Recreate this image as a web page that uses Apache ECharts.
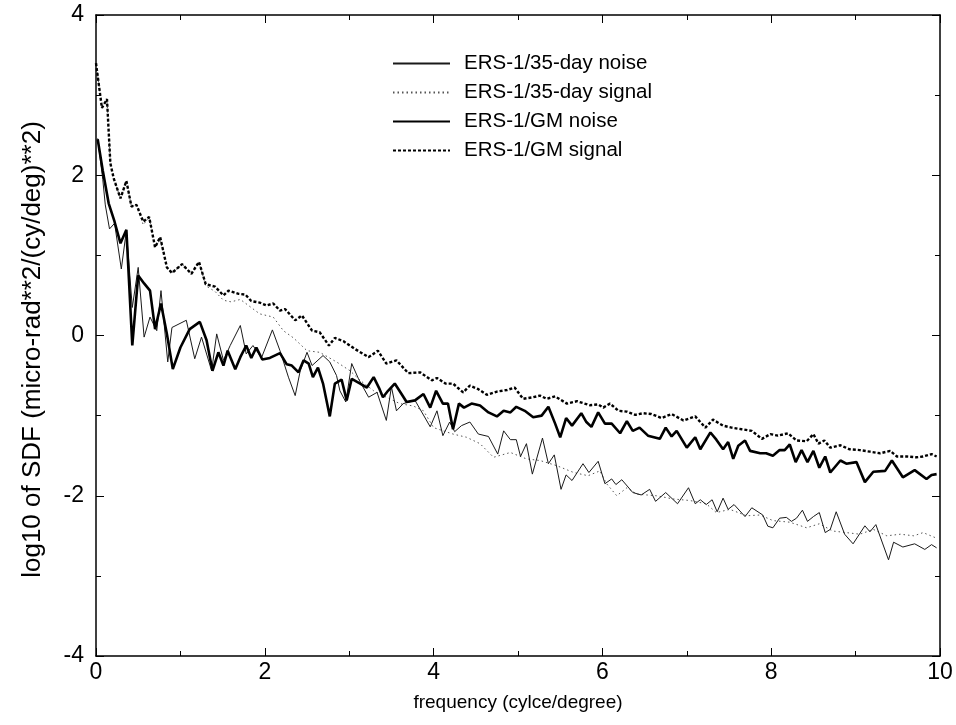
<!DOCTYPE html>
<html>
<head>
<meta charset="utf-8">
<script src="https://cdn.jsdelivr.net/npm/echarts@6/dist/echarts.min.js"></script>
<style>
html,body{margin:0;padding:0;background:#fff;}
#chart{width:956px;height:725px;}
</style>
</head>
<body>
<div id="chart"></div>
<script>
// ---- data ----
const seriesNames = ['ERS-1/35-day noise', 'ERS-1/35-day signal', 'ERS-1/GM noise', 'ERS-1/GM signal'];
const xTicks = [0, 2, 4, 6, 8, 10];
const yTicks = [-4, -2, 0, 2, 4];

// ERS-1/GM signal
const gmSignalFreq = [0,0.07,0.13,0.17,0.21,0.29,0.36,0.42,0.48,0.56,0.63,0.7,0.76,0.84,0.9,1.02,1.13,1.22,1.3,1.41,1.51,1.57,1.69,1.77,1.84,1.94,2.02,2.1,2.18,2.24,2.36,2.44,2.56,2.65,2.76,2.83,2.93,3.07,3.23,3.34,3.44,3.56,3.7,3.84,3.98,4.04,4.14,4.23,4.35,4.43,4.53,4.63,4.75,4.87,4.96,5.06,5.18,5.26,5.34,5.44,5.58,5.7,5.85,5.95,6.01,6.09,6.19,6.29,6.39,6.48,6.58,6.7,6.82,6.96,7.1,7.22,7.31,7.43,7.53,7.65,7.77,7.89,7.99,8.08,8.2,8.3,8.42,8.5,8.56,8.63,8.7,8.82,8.93,9.05,9.17,9.29,9.41,9.49,9.61,9.72,9.8,9.9,9.96];
const gmSignal = [3.4,2.84,2.95,2.15,1.96,1.71,1.93,1.61,1.63,1.42,1.48,1.1,1.23,0.85,0.78,0.89,0.77,0.92,0.64,0.61,0.5,0.56,0.52,0.51,0.43,0.41,0.375,0.4,0.31,0.33,0.19,0.25,0.06,0.04,-0.125,-0.03,-0.07,-0.17,-0.27,-0.19,-0.35,-0.31,-0.47,-0.46,-0.56,-0.53,-0.6,-0.6,-0.71,-0.625,-0.67,-0.74,-0.7,-0.68,-0.65,-0.79,-0.77,-0.75,-0.79,-0.76,-0.85,-0.82,-0.87,-0.86,-0.9,-0.85,-0.94,-0.95,-0.99,-0.97,-0.98,-1.03,-0.98,-1.06,-1.01,-1.15,-1.05,-1.125,-1.15,-1.17,-1.19,-1.29,-1.23,-1.25,-1.22,-1.31,-1.32,-1.23,-1.35,-1.31,-1.4,-1.37,-1.42,-1.43,-1.45,-1.47,-1.44,-1.51,-1.51,-1.52,-1.51,-1.48,-1.51];

// ERS-1/35-day signal
const d35SignalFreq = [0,0.07,0.13,0.17,0.21,0.29,0.36,0.42,0.48,0.56,0.63,0.7,0.76,0.84,0.9,1.02,1.13,1.22,1.3,1.41,1.51,1.6,1.71,1.94,2.1,2.22,2.34,2.5,2.65,2.85,3.01,3.13,3.29,3.44,3.6,3.76,3.88,4.0,4.23,4.39,4.55,4.71,4.91,5.1,5.26,5.46,5.66,5.83,5.97,6.05,6.17,6.29,6.41,6.64,6.84,7.04,7.23,7.35,7.51,7.71,7.87,8.02,8.22,8.42,8.57,8.73,8.89,9.05,9.21,9.37,9.53,9.69,9.8,9.96];
const d35Signal = [3.4,2.84,2.95,2.15,1.96,1.71,1.93,1.61,1.63,1.38,1.48,1.1,1.2,0.85,0.78,0.89,0.77,0.92,0.62,0.55,0.44,0.42,0.45,0.27,0.23,0.06,-0.03,-0.19,-0.21,-0.33,-0.44,-0.56,-0.69,-0.77,-0.85,-0.88,-0.94,-1.15,-1.23,-1.27,-1.35,-1.52,-1.46,-1.54,-1.56,-1.625,-1.71,-1.75,-1.69,-1.85,-2.0,-1.9,-1.98,-2.0,-2.04,-2.06,-2.1,-2.21,-2.17,-2.25,-2.24,-2.31,-2.33,-2.4,-2.35,-2.44,-2.46,-2.48,-2.42,-2.5,-2.48,-2.5,-2.46,-2.53];

// ERS-1/GM noise
const gmNoiseFreq = [0.02,0.08,0.15,0.22,0.29,0.36,0.43,0.5,0.57,0.64,0.7,0.77,0.84,0.91,1.0,1.11,1.23,1.31,1.38,1.45,1.51,1.56,1.65,1.71,1.78,1.84,1.9,1.97,2.06,2.18,2.26,2.32,2.4,2.46,2.52,2.57,2.63,2.69,2.77,2.83,2.91,2.97,3.03,3.13,3.21,3.29,3.36,3.4,3.46,3.54,3.62,3.68,3.78,3.88,3.96,4.03,4.11,4.17,4.23,4.3,4.36,4.45,4.55,4.65,4.75,4.83,4.91,4.98,5.08,5.18,5.28,5.36,5.44,5.5,5.57,5.64,5.75,5.81,5.87,5.95,6.03,6.11,6.21,6.29,6.36,6.44,6.54,6.68,6.75,6.82,6.88,7.0,7.1,7.16,7.28,7.35,7.43,7.49,7.55,7.61,7.69,7.75,7.87,7.94,8.02,8.1,8.16,8.22,8.29,8.36,8.43,8.5,8.57,8.64,8.7,8.82,8.89,9.01,9.11,9.21,9.35,9.43,9.56,9.7,9.84,9.9,9.96];
const gmNoise = [2.45,2.06,1.65,1.42,1.15,1.32,-0.125,0.75,0.65,0.56,0.08,0.4,0.02,-0.42,-0.15,0.08,0.17,-0.06,-0.44,-0.21,-0.375,-0.19,-0.42,-0.27,-0.125,-0.28,-0.15,-0.3,-0.28,-0.22,-0.36,-0.375,-0.46,-0.31,-0.35,-0.52,-0.4,-0.6,-1.01,-0.6,-0.55,-0.81,-0.54,-0.6,-0.65,-0.52,-0.67,-0.77,-0.69,-0.6,-0.73,-0.83,-0.81,-0.73,-0.9,-0.69,-0.85,-0.85,-1.17,-0.85,-0.9,-0.85,-0.875,-0.96,-1.01,-0.94,-0.96,-0.89,-0.94,-1.02,-1.0,-0.89,-1.1,-1.27,-1.03,-1.125,-0.97,-1.08,-1.14,-0.96,-1.1,-1.1,-1.22,-1.07,-1.19,-1.15,-1.25,-1.29,-1.15,-1.26,-1.19,-1.4,-1.27,-1.42,-1.21,-1.3,-1.42,-1.33,-1.54,-1.375,-1.31,-1.44,-1.47,-1.47,-1.5,-1.43,-1.43,-1.36,-1.58,-1.43,-1.58,-1.44,-1.65,-1.51,-1.71,-1.56,-1.6,-1.58,-1.83,-1.7,-1.69,-1.56,-1.77,-1.68,-1.79,-1.74,-1.73];

// ERS-1/35-day noise
const d35NoiseFreq = [0.02,0.08,0.11,0.16,0.22,0.3,0.36,0.43,0.5,0.57,0.64,0.72,0.77,0.85,0.9,1.07,1.17,1.25,1.37,1.43,1.51,1.59,1.71,1.78,1.86,1.96,2.09,2.18,2.28,2.36,2.42,2.5,2.56,2.69,2.77,2.85,2.89,2.96,3.03,3.11,3.23,3.33,3.44,3.5,3.56,3.64,3.78,3.96,4.04,4.11,4.19,4.25,4.33,4.43,4.53,4.65,4.76,4.83,4.91,4.98,5.03,5.1,5.17,5.29,5.36,5.43,5.51,5.57,5.64,5.77,5.84,5.95,6.03,6.11,6.16,6.23,6.36,6.46,6.56,6.63,6.75,6.89,7.02,7.1,7.16,7.23,7.3,7.36,7.43,7.49,7.56,7.69,7.77,7.9,7.96,8.02,8.1,8.18,8.24,8.3,8.37,8.43,8.5,8.57,8.64,8.7,8.77,8.87,8.97,9.11,9.17,9.24,9.39,9.45,9.56,9.7,9.82,9.9,9.96];
const d35Noise = [2.46,1.95,1.63,1.33,1.4,0.83,1.31,0.35,0.85,-0.02,0.23,0.06,0.56,-0.33,0.1,0.19,-0.29,-0.02,-0.44,0.02,-0.31,-0.125,0.125,-0.23,-0.125,-0.28,0.07,-0.19,-0.52,-0.75,-0.44,-0.21,-0.375,-0.25,-0.33,-0.5,-0.69,-0.83,-0.35,-0.54,-0.77,-0.71,-1.06,-0.64,-0.94,-0.85,-0.81,-1.14,-0.94,-1.25,-1.08,-1.2,-1.125,-1.08,-1.23,-1.26,-1.48,-1.19,-1.3,-1.3,-1.51,-1.35,-1.73,-1.28,-1.6,-1.49,-1.92,-1.74,-1.81,-1.6,-1.71,-1.57,-1.85,-1.79,-1.86,-1.8,-1.96,-1.99,-1.92,-2.07,-1.96,-2.1,-1.9,-2.1,-2.05,-2.11,-2.05,-2.2,-2.03,-2.17,-2.11,-2.26,-2.15,-2.24,-2.38,-2.4,-2.28,-2.27,-2.32,-2.28,-2.18,-2.32,-2.26,-2.21,-2.46,-2.42,-2.2,-2.48,-2.6,-2.375,-2.45,-2.36,-2.8,-2.58,-2.64,-2.6,-2.67,-2.61,-2.65];

// ---- chart ----
const pairs = (xs, ys) => xs.map((x, i) => [x, ys[i]]);
const FONT = '"Liberation Sans", Arial, Helvetica, sans-serif';

const chart = echarts.init(document.getElementById('chart'), null, {renderer: 'canvas'});

const axisCommon = {
  type: 'value',
  axisLine: {show: true, onZero: false, lineStyle: {color: '#000', width: 1.5}},
  splitLine: {show: false},
  axisTick: {show: true, inside: true, length: 8, lineStyle: {color: '#000', width: 1}},
  minorTick: {show: true, splitNumber: 2, length: 5, lineStyle: {color: '#000', width: 1}},
  axisLabel: {color: '#000', fontSize: 23, fontFamily: FONT}
};

chart.setOption({
  backgroundColor: '#fff',
  animation: false,
  grid: {left: 96, right: 16, top: 15, bottom: 69, containLabel: false},
  legend: {
    orient: 'vertical',
    left: 392,
    top: 53,
    padding: 0,
    itemWidth: 57,
    itemHeight: 14,
    itemGap: 8,
    data: seriesNames,
    itemStyle: {opacity: 0},
    textStyle: {color: '#000', fontSize: 20.5, lineHeight: 20, fontFamily: FONT, padding: [0, 0, 0, 9]}
  },
  xAxis: [
    Object.assign({}, axisCommon, {
      position: 'bottom', min: 0, max: 10, interval: 2,
      axisLabel: Object.assign({}, axisCommon.axisLabel, {margin: 5}),
      name: 'frequency (cylce/degree)', nameLocation: 'middle', nameGap: 37,
      nameTextStyle: {color: '#000', fontSize: 19, fontFamily: FONT}
    }),
    Object.assign({}, axisCommon, {
      position: 'top', min: 0, max: 10, interval: 2,
      axisLabel: {show: false}
    })
  ],
  yAxis: [
    Object.assign({}, axisCommon, {
      position: 'left', min: -4, max: 4, interval: 2,
      axisLabel: Object.assign({}, axisCommon.axisLabel, {margin: 12}),
      name: 'log10 of SDF (micro-rad**2/(cy/deg)**2)', nameLocation: 'middle', nameGap: 50,
      nameRotate: 90,
      nameTextStyle: {color: '#000', fontSize: 26, fontFamily: FONT, padding: [0, 28, 0, 0]}
    }),
    Object.assign({}, axisCommon, {
      position: 'right', min: -4, max: 4, interval: 2,
      axisLabel: {show: false}
    })
  ],
  series: [
    {
      name: seriesNames[0], type: 'line', data: pairs(d35NoiseFreq, d35Noise),
      showSymbol: false, symbol: 'none',
      lineStyle: {color: '#1a1a1a', width: 1, type: 'solid'}, itemStyle: {color: '#1a1a1a'}, z: 3
    },
    {
      name: seriesNames[1], type: 'line', data: pairs(d35SignalFreq, d35Signal),
      showSymbol: false, symbol: 'none',
      lineStyle: {color: '#555', width: 1, type: [1.5, 3]}, itemStyle: {color: '#555'}, z: 2
    },
    {
      name: seriesNames[2], type: 'line', data: pairs(gmNoiseFreq, gmNoise),
      showSymbol: false, symbol: 'none',
      lineStyle: {color: '#000', width: 2.6, type: 'solid'}, itemStyle: {color: '#000'}, z: 4
    },
    {
      name: seriesNames[3], type: 'line', data: pairs(gmSignalFreq, gmSignal),
      showSymbol: false, symbol: 'none',
      lineStyle: {color: '#000', width: 2.4, type: [3, 2]}, itemStyle: {color: '#000'}, z: 4
    }
  ]
});
</script>
</body>
</html>
